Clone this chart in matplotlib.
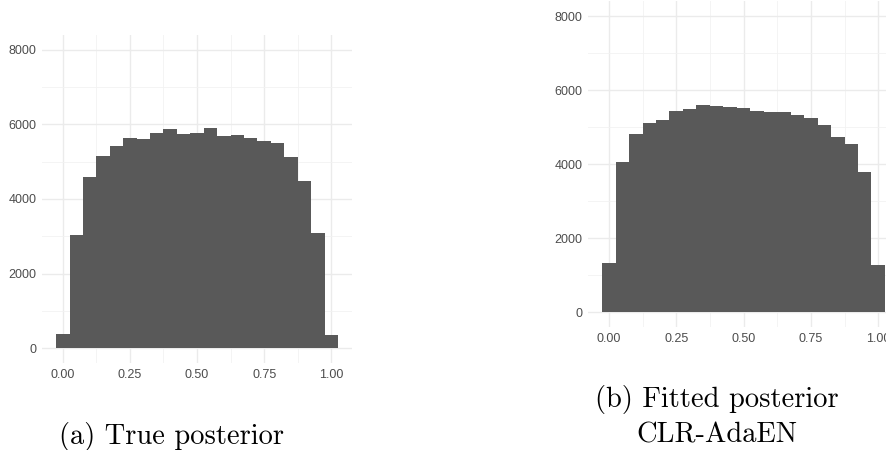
import numpy as np
import matplotlib.pyplot as plt
from matplotlib.ticker import MultipleLocator

# histogram bin centres (binwidth 0.05) and counts per bin
bin_centres = np.round(np.arange(0, 1.0001, 0.05), 2)
true_counts = [380, 3040, 4580, 5150, 5425, 5630, 5605, 5760, 5865, 5740, 5770,
               5895, 5695, 5705, 5640, 5545, 5505, 5130, 4480, 3075, 360]
fitted_counts = [1325, 4065, 4810, 5110, 5190, 5440, 5495, 5605, 5570, 5550, 5505,
                 5425, 5405, 5415, 5315, 5245, 5055, 4730, 4530, 3800, 1270]

x_ticks = [0.00, 0.25, 0.50, 0.75, 1.00]
y_ticks = [0, 2000, 4000, 6000, 8000]
caption_a = "(a) True posterior"
caption_b = ["(b) Fitted posterior", "CLR-AdaEN"]

plt.rcParams['font.family'] = ['Liberation Sans', 'DejaVu Sans']

fig = plt.figure(figsize=(8.86, 4.5), dpi=100)
ax_a = fig.add_axes([0.0474, 0.1933, 0.350, 0.729])
ax_b = fig.add_axes([0.6637, 0.2733, 0.351, 0.724])


def style_panel(ax, counts):
    ax.bar(bin_centres, counts, width=0.05, color='#595959',
           linewidth=0, zorder=3)
    ax.set_xlim(-0.0775, 1.0775)
    ax.set_ylim(-400, 8400)
    ax.set_xticks(x_ticks)
    ax.set_xticklabels([f'{v:.2f}' for v in x_ticks])
    ax.set_yticks(y_ticks)
    ax.xaxis.set_minor_locator(MultipleLocator(0.25, offset=0.125))
    ax.yaxis.set_minor_locator(MultipleLocator(2000, offset=1000))
    ax.grid(which='major', color='#ebebeb', linewidth=1.0, zorder=0)
    ax.grid(which='minor', color='#f2f2f2', linewidth=0.6, zorder=0)
    ax.tick_params(which='both', length=0, labelsize=9, labelcolor='#4d4d4d', pad=4)
    for s in ax.spines.values():
        s.set_visible(False)


style_panel(ax_a, true_counts)
style_panel(ax_b, fitted_counts)

# sub-figure captions in Computer Modern
cap_kw = dict(family='cmr10', fontsize=20.5, ha='center', va='baseline', color='black')
fig.text(0.194, 0.0133, caption_a, **cap_kw)
fig.text(0.809, 0.0956, caption_b[0], **cap_kw)
fig.text(0.809, 0.0156, caption_b[1], **cap_kw)

fig.savefig('out.png', dpi=100, facecolor='white')
